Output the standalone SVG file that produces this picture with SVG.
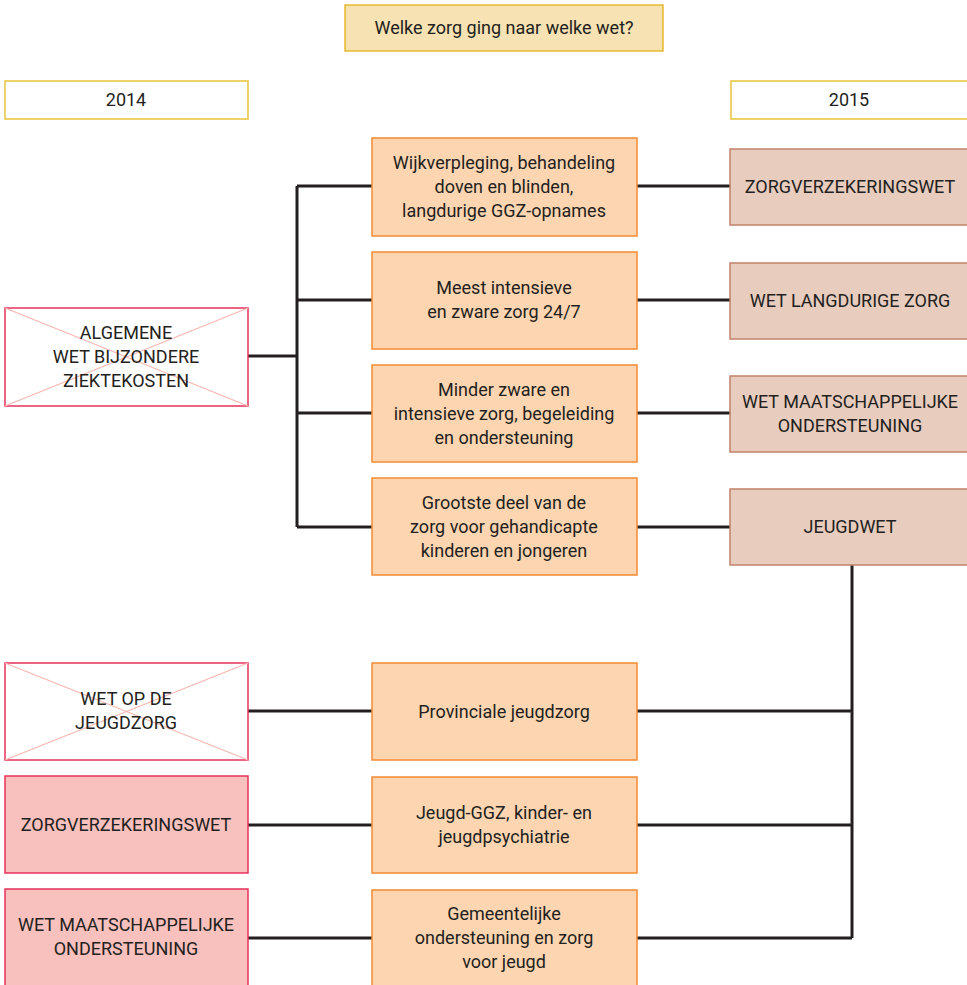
<svg xmlns="http://www.w3.org/2000/svg" width="967" height="985" viewBox="0 0 967 985">
<style>
text{font-family:Roboto,"Liberation Sans",sans-serif;font-size:18px;fill:#231f20;text-anchor:middle}
.title{fill:#f6e2b3;stroke:#e6b92c;stroke-width:1.5}
.year{fill:#fff;stroke:#e8c23a;stroke-width:1.5}
.old{fill:#fff;stroke:#e8305c;stroke-width:1.5}
.oldf{fill:#f9c1bd;stroke:#e8305c;stroke-width:1.5}
.x{stroke:#f8b7b0;stroke-width:1.2}
.mid{fill:#fdd5b1;stroke:#f48b33;stroke-width:1.5}
.new{fill:#e8cdbf;stroke:#c0826a;stroke-width:1.5}
.c{stroke:#231f20;stroke-width:3;fill:none}
</style>
<rect width="967" height="985" fill="#fff"/>
<g id="title"><rect class="title" x="345" y="5" width="318" height="46"/><text x="504" y="34">Welke zorg ging naar welke wet?</text></g>
<g id="y2014"><rect class="year" x="5" y="81" width="243" height="38"/><text x="126" y="106">2014</text></g>
<g id="y2015"><rect class="year" x="731" y="81" width="240" height="38"/><text x="849" y="106">2015</text></g>

<g id="connectors">
<path class="c" d="M248 356H297M297 186V527M297 186H372M297 300H372M297 413H372M297 527H372"/>
<path class="c" d="M637 186H730M637 300H730M637 413H730M637 527H730"/>
<path class="c" d="M852 565V938M637 711H852M637 825H852M637 938H852"/>
<path class="c" d="M248 711H372M248 825H372M248 938H372"/>
</g>

<g id="awbz"><rect class="old" x="5" y="308" width="243" height="98"/><path class="x" d="M5 308L248 406M248 308L5 406"/><text x="126" y="339">ALGEMENE</text><text x="126" y="363">WET BIJZONDERE</text><text x="126" y="387">ZIEKTEKOSTEN</text></g>
<g id="wjz"><rect class="old" x="5" y="663" width="243" height="97"/><path class="x" d="M5 663L248 760M248 663L5 760"/><text x="126" y="705">WET OP DE</text><text x="126" y="729">JEUGDZORG</text></g>
<g id="zvw-old"><rect class="oldf" x="5" y="776" width="243" height="97"/><text x="126" y="831">ZORGVERZEKERINGSWET</text></g>
<g id="wmo-old"><rect class="oldf" x="5" y="889" width="243" height="100"/><text x="126" y="931">WET MAATSCHAPPELIJKE</text><text x="126" y="955">ONDERSTEUNING</text></g>

<g id="m1"><rect class="mid" x="372" y="138" width="265" height="98"/><text x="504" y="169">Wijkverpleging, behandeling</text><text x="504" y="193">doven en blinden,</text><text x="504" y="217">langdurige GGZ-opnames</text></g>
<g id="m2"><rect class="mid" x="372" y="252" width="265" height="97"/><text x="504" y="294">Meest intensieve</text><text x="504" y="318">en zware zorg 24/7</text></g>
<g id="m3"><rect class="mid" x="372" y="365" width="265" height="97"/><text x="504" y="396">Minder zware en</text><text x="504" y="420">intensieve zorg, begeleiding</text><text x="504" y="444">en ondersteuning</text></g>
<g id="m4"><rect class="mid" x="372" y="478" width="265" height="97"/><text x="504" y="509">Grootste deel van de</text><text x="504" y="533">zorg voor gehandicapte</text><text x="504" y="557">kinderen en jongeren</text></g>
<g id="m5"><rect class="mid" x="372" y="663" width="265" height="97"/><text x="504" y="718">Provinciale jeugdzorg</text></g>
<g id="m6"><rect class="mid" x="372" y="777" width="265" height="96"/><text x="504" y="819">Jeugd-GGZ, kinder- en</text><text x="504" y="843">jeugdpsychiatrie</text></g>
<g id="m7"><rect class="mid" x="372" y="890" width="265" height="100"/><text x="504" y="920">Gemeentelijke</text><text x="504" y="944">ondersteuning en zorg</text><text x="504" y="968">voor jeugd</text></g>

<g id="zvw"><rect class="new" x="730" y="149" width="241" height="76"/><text x="850" y="193">ZORGVERZEKERINGSWET</text></g>
<g id="wlz"><rect class="new" x="730" y="263" width="241" height="76"/><text x="850" y="307">WET LANGDURIGE ZORG</text></g>
<g id="wmo"><rect class="new" x="730" y="376" width="241" height="76"/><text x="850" y="408">WET MAATSCHAPPELIJKE</text><text x="850" y="432">ONDERSTEUNING</text></g>
<g id="jw"><rect class="new" x="730" y="489" width="241" height="76"/><text x="850" y="533">JEUGDWET</text></g>
</svg>
